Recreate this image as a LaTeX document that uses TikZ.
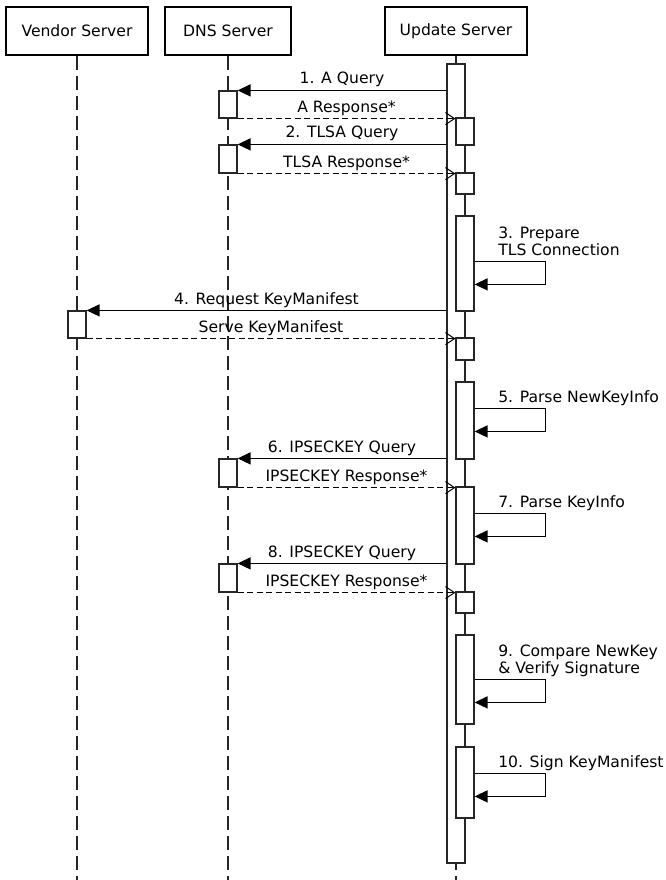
\documentclass[tikz,border=0pt]{standalone}
\usepackage{fontspec}
\setmainfont{DejaVu Sans}
\usetikzlibrary{arrows.meta}

\begin{document}
\begin{tikzpicture}[x=1pt, y=-1pt, font=\fontsize{15.6}{17}\selectfont,
    actor/.style={draw, line width=2pt, minimum height=48pt, inner sep=0pt},
    actbar/.style={draw=black!85, fill=white, line width=1.2pt, minimum width=18pt, inner sep=0pt},
    lifeline/.style={black!85, line width=1.2pt, dash pattern=on 14pt off 6pt},
    call/.style={line width=1.4pt, -{Triangle[length=13pt, width=12pt]}},
    reply/.style={line width=1pt, dash pattern=on 6pt off 3.5pt, -{Straight Barb[length=9pt, width=12pt, line width=1pt]}},
    msg/.style={above, inner sep=2pt, text depth=3.7pt},
    note/.style={anchor=south west, align=left, inner sep=2pt, text depth=3.7pt}]
    \useasboundingbox (0,0) rectangle (665,880);

    \node[actor, minimum width=142pt] (vendor) at (77,31) {Vendor Server};
    \node[actor, minimum width=126pt] (dns) at (228,31) {DNS Server};
    \node[actor, minimum width=142pt] (update) at (456,31) {Update Server};
    \coordinate (bottom) at (0,880);

    % lifelines
    \foreach \a in {vendor, dns, update}
        \draw[lifeline] (\a.south) -- (\a.south |- bottom);

    % activations
    \node[actbar, minimum height=799pt] (ubar) at (456,463.5) {};
    \foreach \n/\y/\h in {u1/131.5/27, u2/183.5/21, u3/263.5/95, u4/349/22, u5/420.5/77,
                          u6/525.5/77, u7/602.5/21, u8/679.5/89, u9/782.5/71}
        \node[actbar, minimum height=\h pt] (\n) at (465,\y) {};
    \foreach \n/\y/\h in {d1/104.5/27, d2/159/28, d3/473/28, d4/578/28}
        \node[actbar, minimum height=\h pt] (\n) at (228,\y) {};
    \node[actbar, minimum height=27pt] (v1) at (77,324.5) {};

    % messages
    \draw[call] (ubar.west |- d1.north) -- node[msg] (m1) {1. A Query} (d1.north east);
    \draw[reply] (d1.south east) -- node[msg] (r1) {A Response*} (d1.south east -| u1.west);
    \draw[call] (ubar.west |- d2.north) -- node[msg] (m2) {2. TLSA Query} (d2.north east);
    \draw[reply] (d2.south east) -- node[msg] (r2) {TLSA Response*} (d2.south east -| u2.west);
    \draw[call] (ubar.west |- v1.north) -- node[msg] (m4) {4. Request KeyManifest} (v1.north east);
    \draw[reply] (v1.south east) -- node[msg] (r4) {Serve KeyManifest} (v1.south east -| u4.west);
    \draw[call] (ubar.west |- d3.north) -- node[msg] (m6) {6. IPSECKEY Query} (d3.north east);
    \draw[reply] (d3.south east) -- node[msg] (r6) {IPSECKEY Response*} (d3.south east -| u6.west);
    \draw[call] (ubar.west |- d4.north) -- node[msg] (m8) {8. IPSECKEY Query} (d4.north east);
    \draw[reply] (d4.south east) -- node[msg] (r8) {IPSECKEY Response*} (d4.south east -| u7.west);

    % self calls
    \foreach \n/\d/\t in {u3/46/{3. Prepare\\TLS Connection}, u5/27/{5. Parse NewKeyInfo},
                          u6/27/{7. Parse KeyInfo}, u8/45/{9. Compare NewKey\\\& Verify Signature},
                          u9/27/{10. Sign KeyManifest}}
        \draw[call] ([yshift=-\d pt]\n.north east) node[note, xshift=21pt] (l\n) {\t}
            -- ++(71,0) -- ++(0,23) -- ([yshift=-\d pt-23pt]\n.north east);
\end{tikzpicture}
\end{document}
